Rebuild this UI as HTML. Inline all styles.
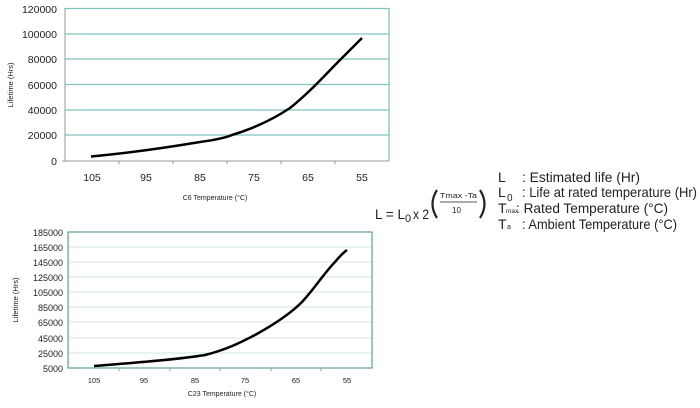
<!DOCTYPE html>
<html><head><style>
body{margin:0;background:#fff;}
svg text{font-family:"Liberation Sans",Arial,sans-serif;}
</style></head><body>
<svg width="700" height="403" viewBox="0 0 700 403" xmlns="http://www.w3.org/2000/svg">
<!-- Top chart -->
<g stroke="#7fc4c0" stroke-width="1.3">
<line x1="65" y1="8.5" x2="389" y2="8.5"/>
<line x1="65" y1="34" x2="389" y2="34"/>
<line x1="65" y1="59" x2="389" y2="59"/>
<line x1="65" y1="84.5" x2="389" y2="84.5"/>
<line x1="65" y1="110" x2="389" y2="110"/>
<line x1="65" y1="135" x2="389" y2="135"/>
<line x1="389" y1="8" x2="389" y2="161"/>
</g>
<g stroke="#999" stroke-width="1">
<line x1="65" y1="8" x2="65" y2="161"/>
<line x1="62" y1="161" x2="389" y2="161"/>
<line x1="119" y1="161" x2="119" y2="164"/><line x1="173" y1="161" x2="173" y2="164"/>
<line x1="227" y1="161" x2="227" y2="164"/><line x1="281" y1="161" x2="281" y2="164"/>
<line x1="335" y1="161" x2="335" y2="164"/>
</g>
<g font-size="10.5" fill="#222" text-anchor="end">
<text x="57" y="13">120000</text><text x="57" y="38">100000</text><text x="57" y="63">80000</text>
<text x="57" y="89">60000</text><text x="57" y="114">40000</text><text x="57" y="139">20000</text>
<text x="57" y="165">0</text>
</g>
<g font-size="10.5" fill="#222" text-anchor="middle">
<text x="92" y="181">105</text><text x="146" y="181">95</text><text x="200" y="181">85</text>
<text x="254" y="181">75</text><text x="308" y="181">65</text><text x="362" y="181">55</text>
</g>
<text x="215" y="200" font-size="7" fill="#222" text-anchor="middle">C6 Temperature (°C)</text>
<text transform="translate(13,85) rotate(-90)" font-size="7.5" fill="#222" text-anchor="middle">Lifetime (Hrs)</text>
<path d="M91,156.5 C130,153 170,147 200,142 C215,140 225,138 232,135 C255,128 275,118 290,108 C310,92 325,75 340,60 C350,50 357,43 362,38" fill="none" stroke="#000" stroke-width="2.5"/>

<!-- Bottom chart -->
<g stroke="#cfe5e3" stroke-width="1">
<line x1="68" y1="247" x2="372" y2="247"/><line x1="68" y1="262" x2="372" y2="262"/>
<line x1="68" y1="277" x2="372" y2="277"/><line x1="68" y1="292" x2="372" y2="292"/>
<line x1="68" y1="307" x2="372" y2="307"/><line x1="68" y1="322" x2="372" y2="322"/>
<line x1="68" y1="338" x2="372" y2="338"/><line x1="68" y1="353" x2="372" y2="353"/>
</g>
<rect x="68" y="232" width="304" height="136" fill="none" stroke="#4fa39d" stroke-width="1.2"/>
<g stroke="#999" stroke-width="1">
<line x1="119" y1="368" x2="119" y2="371"/><line x1="170" y1="368" x2="170" y2="371"/>
<line x1="220" y1="368" x2="220" y2="371"/><line x1="271" y1="368" x2="271" y2="371"/>
<line x1="321" y1="368" x2="321" y2="371"/>
</g>
<g font-size="9" fill="#222" text-anchor="end">
<text x="63" y="236">185000</text><text x="63" y="251">165000</text><text x="63" y="266">145000</text>
<text x="63" y="281">125000</text><text x="63" y="296">105000</text><text x="63" y="311">85000</text>
<text x="63" y="326">65000</text><text x="63" y="342">45000</text><text x="63" y="357">25000</text>
<text x="63" y="372">5000</text>
</g>
<g font-size="7.5" fill="#222" text-anchor="middle">
<text x="94" y="383">105</text><text x="144" y="383">95</text><text x="195" y="383">85</text>
<text x="245" y="383">75</text><text x="296" y="383">65</text><text x="347" y="383">55</text>
</g>
<text x="222" y="396" font-size="7" fill="#222" text-anchor="middle">C23 Temperature (°C)</text>
<text transform="translate(18,300) rotate(-90)" font-size="7.5" fill="#222" text-anchor="middle">Lifetime (Hrs)</text>
<path d="M94,366 C130,363 175,360 205,355 C225,350 240,343 255,335 C275,324 292,312 302,302 C315,288 325,272 335,262 C340,256 344,252 347,250" fill="none" stroke="#000" stroke-width="2.5"/>

<!-- Formula -->
<g fill="#222" font-size="14">
<text x="375" y="219" textLength="30" lengthAdjust="spacingAndGlyphs">L = L</text>
<text x="405" y="222" font-size="11">0</text>
<text x="413" y="219" textLength="16" lengthAdjust="spacingAndGlyphs">x 2</text>
<path d="M437,190 Q428,204 437,218" fill="none" stroke="#222" stroke-width="2.2"/>
<path d="M480,190 Q489,204 480,218" fill="none" stroke="#222" stroke-width="2.2"/>
<text x="440" y="198" font-size="7.5" textLength="37" lengthAdjust="spacingAndGlyphs">Tmax -Ta</text>
<line x1="440" y1="202" x2="477" y2="202" stroke="#222" stroke-width="0.8"/>
<text x="452" y="213" font-size="8">10</text>
<text x="498" y="182">L</text><text x="522" y="182" textLength="118" lengthAdjust="spacingAndGlyphs">: Estimated life (Hr)</text>
<text x="498" y="197">L</text><text x="507" y="201" font-size="10">0</text><text x="522" y="197" textLength="175" lengthAdjust="spacingAndGlyphs">: Life at rated temperature (Hr)</text>
<text x="498" y="213">T</text><text x="506" y="213" font-size="6.5">max</text><text x="516" y="213" textLength="152" lengthAdjust="spacingAndGlyphs">: Rated Temperature (°C)</text>
<text x="498" y="229">T</text><text x="507" y="229" font-size="7">a</text><text x="522" y="229" textLength="155" lengthAdjust="spacingAndGlyphs">: Ambient Temperature (°C)</text>
</g>
</svg>
</body></html>
